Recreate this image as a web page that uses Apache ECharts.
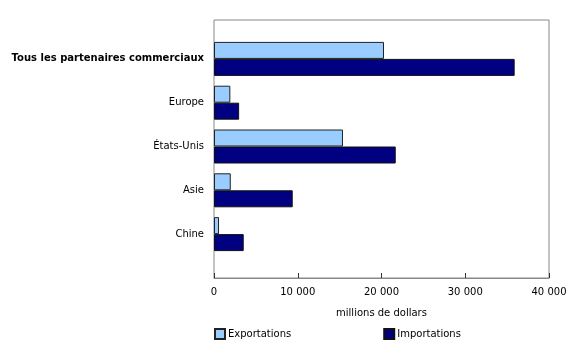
<!DOCTYPE html>
<html><head><meta charset="utf-8">
<script src="https://cdn.jsdelivr.net/npm/echarts@6/dist/echarts.min.js"></script>
<style>html,body{margin:0;padding:0;background:#fff}#c{width:580px;height:345px}</style>
</head><body><div id="c"></div>
<script>
const categories = ['Tous les partenaires commerciaux', 'Europe', 'États-Unis', 'Asie', 'Chine'];
const exportations = [20300, 1950, 15400, 2000, 600];
const importations = [35900, 3000, 21700, 9400, 3550];
const xTicks = [0, 10000, 20000, 30000, 40000];
const font = 'DejaVu Sans, Verdana, sans-serif';
const fmt = v => String(v).replace(/\B(?=(\d{3})+(?!\d))/g, '\u00a0');

const chart = echarts.init(document.getElementById('c'), null, {renderer: 'canvas'});
chart.setOption({
  animation: false,
  textStyle: {fontFamily: font},
  grid: [
    {left: 214, right: 31, top: 20, bottom: 67, show: true, borderColor: '#888', borderWidth: 1, backgroundColor: 'transparent', containLabel: false, outerBoundsMode: 'none'},
    {left: 214, right: 31, top: 37, bottom: 89, containLabel: false, outerBoundsMode: 'none'}
  ],
  xAxis: [
    {gridIndex: 0, type: 'value', min: xTicks[0], max: xTicks[xTicks.length - 1], interval: 10000,
     axisLine: {show: true, lineStyle: {color: '#888', width: 1}},
     axisTick: {show: true, inside: true, length: 5, lineStyle: {color: '#333'}},
     splitLine: {show: false},
     axisLabel: {color: '#000', fontSize: 10, fontFamily: font, margin: 9, formatter: fmt},
     name: 'millions de dollars', nameLocation: 'middle', nameGap: 30,
     nameTextStyle: {color: '#000', fontSize: 10, fontFamily: font}},
    {gridIndex: 1, type: 'value', min: xTicks[0], max: xTicks[xTicks.length - 1], show: false, splitLine: {show: false}}
  ],
  yAxis: [
    {gridIndex: 0, type: 'value', show: false, splitLine: {show: false}},
    {gridIndex: 1, type: 'category', data: categories, inverse: true,
     axisLine: {show: false}, axisTick: {show: false},
     axisLabel: {color: '#000', fontSize: 10, fontFamily: font, margin: 10,
       formatter: (v, i) => i === 0 ? '{b|' + v + '}' : v,
       rich: {b: {fontWeight: 'bold', fontSize: 10, fontFamily: font, color: '#000'}}}}
  ],
  legend: {
    left: 214, top: 328, itemWidth: 10, itemHeight: 10, itemGap: 92, padding: 0,
    textStyle: {color: '#000', fontSize: 10, fontFamily: font, padding: [0, 0, 0, -2]},
    data: [{name: 'Exportations', icon: 'rect'}, {name: 'Importations', icon: 'rect'}]
  },
  series: [
    {name: 'Exportations', type: 'bar', xAxisIndex: 1, yAxisIndex: 1, data: exportations,
     barWidth: 17, barGap: '0%',
     itemStyle: {color: '#99CCFF', borderColor: '#222', borderWidth: 1}},
    {name: 'Importations', type: 'bar', xAxisIndex: 1, yAxisIndex: 1, data: importations,
     barWidth: 17, barGap: '0%',
     itemStyle: {color: '#000080', borderColor: '#111', borderWidth: 1}}
  ]
});
</script></body></html>
